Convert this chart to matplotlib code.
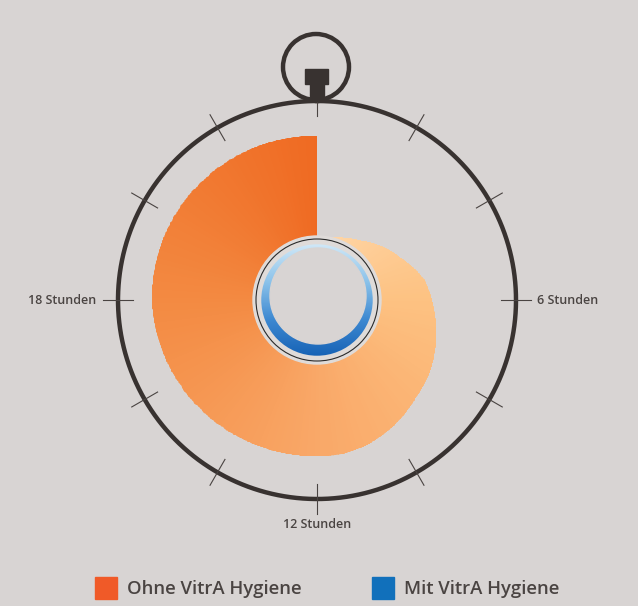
import matplotlib.pyplot as plt
import numpy as np
from matplotlib.colors import LinearSegmentedColormap
from matplotlib.patches import Circle, Rectangle, PathPatch
from matplotlib.path import Path

# Daten: Wachstum ohne VitrA Hygiene (Anteil des Zifferblatt-Radius) über 24 Stunden
ohne_hours = [0.6, 1.5, 2.4, 3.3, 4.2, 5.3, 6.3, 7.2, 8.1, 9.0, 9.9, 10.7, 11.4, 12, 13.5,
              15, 16.5, 18, 19.5, 21, 22.5, 24]
ohne_level = [0.32, 0.34, 0.37, 0.42, 0.47, 0.55, 0.59, 0.63, 0.67, 0.70, 0.74, 0.77, 0.785,
              0.785, 0.79, 0.80, 0.815, 0.83, 0.832, 0.83, 0.828, 0.825]
mit_level = 0.28
tick_hours = list(range(0, 24, 2))
label_hours = [6, 12, 18]
label_texts = ['6 Stunden', '12 Stunden', '18 Stunden']
legend_labels = ['Ohne VitrA Hygiene', 'Mit VitrA Hygiene']

BG = '#d8d4d3'
DARK = '#383230'
TEXT = '#4a4442'
ORANGE = '#f05a28'
BLUE = '#1170bb'

W, H = 638, 606
cx, cy, R = 317, 300, 199

plt.rcParams['font.family'] = ['Open Sans', 'DejaVu Sans']
fig = plt.figure(figsize=(W / 100, H / 100), dpi=100)
fig.patch.set_facecolor(BG)

# Polarachse für die Spirale
ax = fig.add_axes([(cx - R) / W, (H - cy - R) / H, 2 * R / W, 2 * R / H], projection='polar')
ax.set_theta_zero_location('N')
ax.set_theta_direction(-1)
ax.set_ylim(0, 1)
ax.set_axis_off()

to_theta = lambda h: np.asarray(h, dtype=float) / 24 * 2 * np.pi

# Orange Spirale mit Farbverlauf
th = to_theta(ohne_hours)
r_in = 0.30
verts = list(zip(th, ohne_level)) + [(th[-1], r_in), (th[0], r_in), (th[0], ohne_level[0])]
codes = [Path.MOVETO] + [Path.LINETO] * (len(verts) - 2) + [Path.CLOSEPOLY]
spiral = PathPatch(Path(verts, codes, _interpolation_steps=40), transform=ax.transData,
                   facecolor='none', edgecolor='none')
ax.add_patch(spiral)

cmap = LinearSegmentedColormap.from_list('orange', [
    (0.0, '#ffd9ad'), (0.25, '#fdc282'), (0.5, '#f9a868'),
    (0.75, '#f38a42'), (1.0, '#ef6a22')])
t_edges = np.linspace(0, 2 * np.pi, 361)
r_edges = np.array([0.2, 0.95])
T, Rg = np.meshgrid(t_edges, r_edges)
C = ((t_edges[:-1] + t_edges[1:]) / 2 / (2 * np.pi))[None, :]
mesh = ax.pcolormesh(T, Rg, C, cmap=cmap, shading='flat', vmin=0, vmax=1)
mesh.set_clip_path(spiral)

# Zifferblatt und Striche
ring_t = np.linspace(0, 2 * np.pi, 400)
ax.plot(ring_t, np.ones_like(ring_t), color=DARK, lw=3.2, clip_on=False, zorder=5)
for h in tick_hours:
    t = to_theta(h)
    ax.plot([t, t], [0.925, 1.075], color=TEXT, lw=0.8, clip_on=False, zorder=6)

for h, txt in zip(label_hours, label_texts):
    t = to_theta(h)
    if h == 6:
        ax.text(t, 1.105, txt, ha='left', va='center', fontsize=9, fontweight='semibold', color=TEXT)
    elif h == 18:
        ax.text(t, 1.11, txt, ha='right', va='center', fontsize=9, fontweight='semibold', color=TEXT)
    else:
        ax.text(t, 1.128, txt, ha='center', va='center', fontsize=9, fontweight='semibold', color=TEXT)

# Deko-Ebene in Pixelkoordinaten
deco = fig.add_axes([0, 0, 1, 1])
deco.set_facecolor('none')
deco.set_axis_off()

# Mitte: heller Ring, blauer Ring
deco.add_patch(Circle((cx, cy), 64, color='#dfdbd9', zorder=2))
blue = LinearSegmentedColormap.from_list('blue', ['#cfe7f7', '#8cc3ea', '#3f8ad2', '#1763b6'])
grad = np.linspace(0, 1, 200)[:, None]
ro = mit_level * R
img = deco.imshow(grad, cmap=blue, extent=[cx - ro, cx + ro, cy + ro, cy - ro],
                  origin='upper', zorder=3, interpolation='bilinear')
blue_clip = Circle((cx, cy), ro, transform=deco.transData, facecolor='none', edgecolor='none')
deco.add_patch(blue_clip)
img.set_clip_path(blue_clip)
deco.add_patch(Circle((cx + 1, cy - 4), 48, color=BG, zorder=4))
deco.add_patch(Circle((cx, cy), 61, fill=False, ec='#2a2a2a', lw=0.8, zorder=5))

# Krone der Stoppuhr
deco.add_patch(Circle((316, 67), 33, fill=False, ec=DARK, lw=3.2, zorder=5))
deco.add_patch(Rectangle((305, 69), 23, 15, color=DARK, zorder=6))
deco.add_patch(Rectangle((309.5, 83), 14, 18, color=DARK, zorder=6))

# Legende
for x0, col, lab in [(95, ORANGE, legend_labels[0]), (372, BLUE, legend_labels[1])]:
    deco.add_patch(Rectangle((x0, 577), 22, 22, color=col, zorder=5))
    deco.text(x0 + 32, 588.5, lab, ha='left', va='center', fontsize=13.3,
              fontweight='semibold', color=TEXT)

deco.set_xlim(0, W)
deco.set_ylim(H, 0)

fig.savefig('out.png', dpi=100, facecolor=BG)
